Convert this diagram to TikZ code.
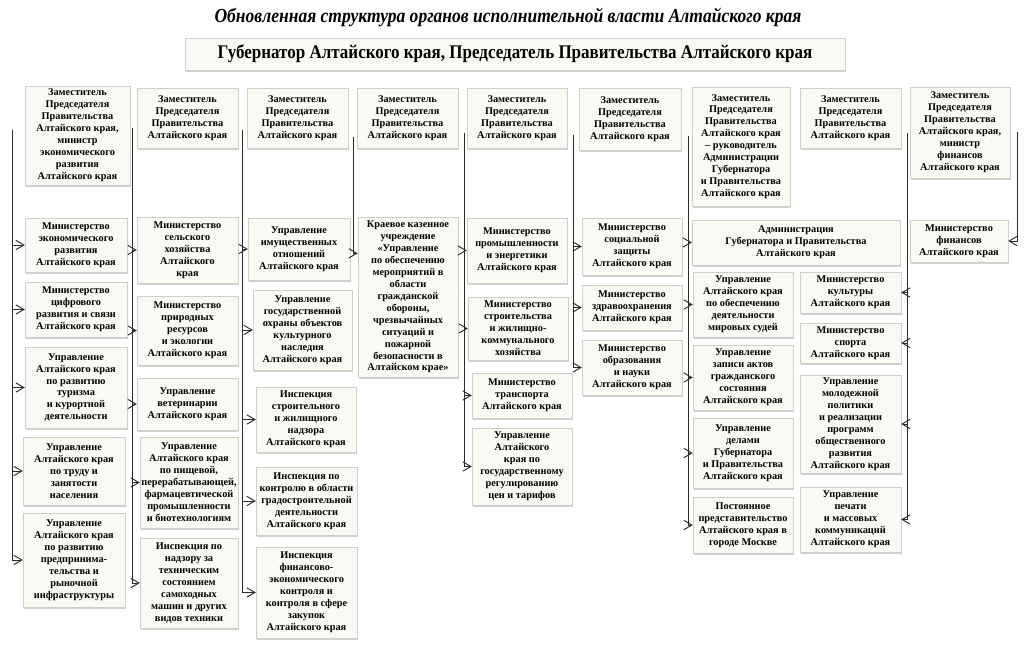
\documentclass[tikz,border=0pt]{standalone}
\usepackage{fontspec}
\setmainfont{Liberation Serif}
\newfontfamily\narrowfont[FakeStretch=0.88]{Liberation Serif}
\usetikzlibrary{arrows.meta,shadows}
\definecolor{AltaiPaper}{HTML}{FAFAF5}
\definecolor{AltaiEdge}{HTML}{CFCFC6}
\definecolor{AltaiLine}{HTML}{2B2B2B}
\newcommand{\akray}{Алтайского края}

\begin{document}
\begin{tikzpicture}[x=0.03cm,y=-0.03cm,
    unit/.style={draw=AltaiEdge,fill=AltaiPaper,align=center,inner sep=1pt,
      drop shadow={shadow xshift=1.2pt,shadow yshift=-1.5pt,opacity=0.35},
      font=\bfseries\fontsize{8.8}{10.2}\selectfont},
    sz/.style 2 args={minimum width=#1*0.03cm,minimum height=#2*0.03cm},
    link/.style={AltaiLine,line width=0.8pt,-{Straight Barb[length=2.4mm,width=2.8mm]}}]
      \useasboundingbox (0,0) rectangle (1024,647);

      \node[font=\narrowfont\bfseries\itshape\fontsize{17}{19}\selectfont] (title) at (508,17)
        {Обновленная структура органов исполнительной власти \akray};
      \node[unit,sz={660}{32},font=\narrowfont\bfseries\fontsize{16.5}{18}\selectfont] (gov) at (515,54)
        {Губернатор \akray, Председатель Правительства \akray};

      \node[unit,sz={105}{99}] (dep1) at (77.5,135.5) {Заместитель\\Председателя\\Правительства\\\akray,\\министр\\экономического\\развития\\\akray};
      \node[unit,sz={101}{60}] (dep2) at (187.5,118) {Заместитель\\Председателя\\Правительства\\\akray};
      \node[unit,sz={101}{60}] (dep3) at (297.5,118) {Заместитель\\Председателя\\Правительства\\\akray};
      \node[unit,sz={101}{60}] (dep4) at (407.5,118) {Заместитель\\Председателя\\Правительства\\\akray};
      \node[unit,sz={100}{60}] (dep5) at (517,118) {Заместитель\\Председателя\\Правительства\\\akray};
      \node[unit,sz={102}{62}] (dep6) at (630,119) {Заместитель\\Председателя\\Правительства\\\akray};
      \node[unit,sz={98}{119}] (dep7) at (741,146.5) {Заместитель\\Председателя\\Правительства\\\akray\\– руководитель\\Администрации\\Губернатора\\и Правительства\\\akray};
      \node[unit,sz={101}{60}] (dep8) at (850.5,118) {Заместитель\\Председателя\\Правительства\\\akray};
      \node[unit,sz={100}{91}] (dep9) at (960,132.5) {Заместитель\\Председателя\\Правительства\\\akray,\\министр\\финансов\\\akray};

      \node[unit,sz={102}{54}] (minecon) at (76,245) {Министерство\\экономического\\развития\\\akray};
      \node[unit,sz={102}{55}] (mindigit) at (76,309.5) {Министерство\\цифрового\\развития и связи\\\akray};
      \node[unit,sz={102}{81}] (tourism) at (76,387.5) {Управление\\\akray\\по развитию\\туризма\\и курортной\\деятельности};
      \node[unit,sz={102}{68}] (labour) at (74,471) {Управление\\\akray\\по труду и\\занятости\\населения};
      \node[unit,sz={102}{94}] (business) at (74,560) {Управление\\\akray\\по развитию\\предпринима-\\тельства и\\рыночной\\инфраструктуры};

      \node[unit,sz={101}{66}] (minagro) at (187.5,250) {Министерство\\сельского\\хозяйства\\Алтайского\\края};
      \node[unit,sz={101}{69}] (minnature) at (187.5,330.5) {Министерство\\природных\\ресурсов\\и экологии\\\akray};
      \node[unit,sz={101}{52}] (veterin) at (187.5,404) {Управление\\ветеринарии\\\akray};
      \node[unit,sz={98}{91}] (foodind) at (189,482.5) {Управление\\\akray\\по пищевой,\\перерабатывающей,\\фармацевтической\\промышленности\\и биотехнологиям};
      \node[unit,sz={98}{90}] (machines) at (189,583) {Инспекция по\\надзору за\\техническим\\состоянием\\самоходных\\машин и других\\видов техники};

      \node[unit,sz={102}{62}] (property) at (299,249) {Управление\\имущественных\\отношений\\\akray};
      \node[unit,sz={99}{80}] (heritage) at (302.5,330) {Управление\\государственной\\охраны объектов\\культурного\\наследия\\\akray};
      \node[unit,sz={100}{65}] (housing) at (306,419.5) {Инспекция\\строительного\\и жилищного\\надзора\\\akray};
      \node[unit,sz={101}{68}] (urban) at (306.5,501) {Инспекция по\\контролю в области\\градостроительной\\деятельности\\\akray};
      \node[unit,sz={101}{91}] (audit) at (306.5,592.5) {Инспекция\\финансово-\\экономического\\контроля и\\контроля в сфере\\закупок\\\akray};

      \node[unit,sz={100}{160}] (civdef) at (408,297) {Краевое казенное\\учреждение\\«Управление\\по обеспечению\\мероприятий в\\области\\гражданской\\обороны,\\чрезвычайных\\ситуаций и\\пожарной\\безопасности в\\Алтайском крае»};

      \node[unit,sz={100}{65}] (minindust) at (517,250.5) {Министерство\\промышленности\\и энергетики\\\akray};
      \node[unit,sz={100}{63}] (minbuild) at (518,328.5) {Министерство\\строительства\\и жилищно-\\коммунального\\хозяйства};
      \node[unit,sz={100}{45}] (mintrans) at (522,395.5) {Министерство\\транспорта\\\akray};
      \node[unit,sz={100}{77}] (tariffs) at (522,466.5) {Управление\\Алтайского\\края по\\государственному\\регулированию\\цен и тарифов};

      \node[unit,sz={100}{57}] (minsocial) at (632,246.5) {Министерство\\социальной\\защиты\\\akray};
      \node[unit,sz={100}{45}] (minhealth) at (632,307.5) {Министерство\\здравоохранения\\\akray};
      \node[unit,sz={100}{55}] (minedu) at (632,367.5) {Министерство\\образования\\и науки\\\akray};

      \node[unit,sz={208}{45}] (admin) at (796,242.5) {Администрация\\Губернатора и Правительства\\\akray};
      \node[unit,sz={100}{65}] (judges) at (743,304.5) {Управление\\\akray\\по обеспечению\\деятельности\\мировых судей};
      \node[unit,sz={100}{65}] (registry) at (743,377.5) {Управление\\записи актов\\гражданского\\состояния\\\akray};
      \node[unit,sz={100}{70}] (affairs) at (743,453) {Управление\\делами\\Губернатора\\и Правительства\\\akray};
      \node[unit,sz={100}{56}] (moscow) at (743,525) {Постоянное\\представительство\\Алтайского края в\\городе Москве};

      \node[unit,sz={101}{41}] (minculture) at (850.5,292.5) {Министерство\\культуры\\\akray};
      \node[unit,sz={101}{40}] (minsport) at (850.5,343) {Министерство\\спорта\\\akray};
      \node[unit,sz={101}{98}] (youth) at (850.5,424) {Управление\\молодежной\\политики\\и реализации\\программ\\общественного\\развития\\\akray};
      \node[unit,sz={101}{65}] (press) at (850.5,519.5) {Управление\\печати\\и массовых\\коммуникаций\\\akray};

      \node[unit,sz={98}{42}] (minfin) at (959,241) {Министерство\\финансов\\\akray};

      \coordinate (t1) at (12,130);
      \coordinate (t2) at (132,128);
      \coordinate (t3) at (242,130);
      \coordinate (t4) at (353,137);
      \coordinate (t5) at (464,133);
      \coordinate (t6) at (573,135);
      \coordinate (t7) at (688,136);
      \coordinate (t8) at (907,133);
      \coordinate (t9) at (1017,132);

      \foreach \n in {minecon,mindigit,tourism,labour,business}
        \draw[link] (t1) |- (\n.west);
      \foreach \n in {minagro,minnature,veterin,foodind,machines}
        \draw[link] (t2) |- (\n.west);
      \foreach \n in {property,heritage,housing,urban,audit}
        \draw[link] (t3) |- (\n.west);
      \draw[link] (t4) |- (civdef.139);
      \foreach \n in {minindust,minbuild,mintrans,tariffs}
        \draw[link] (t5) |- (\n.west);
      \foreach \n in {minsocial,minhealth,minedu}
        \draw[link] (t6) |- (\n.west);
      \foreach \n in {admin,judges,registry,affairs,moscow}
        \draw[link] (t7) |- (\n.west);
      \foreach \n in {minculture,minsport,youth,press}
        \draw[link] (t8) |- (\n.east);
      \draw[link] (t9) |- (minfin.east);
    \end{tikzpicture}
\end{document}
